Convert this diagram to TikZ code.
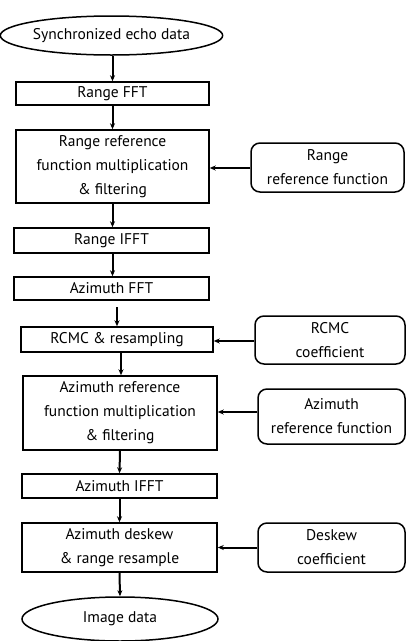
\documentclass[tikz,border=0pt]{standalone}
\usepackage{fontspec}
\setmainfont{PT Sans}
\usetikzlibrary{shapes.geometric,arrows.meta}
\begin{document}
\begin{tikzpicture}[x=1pt,y=-1pt,
  every node/.style={font=\fontsize{15.5}{24}\selectfont, align=center, inner sep=0pt},
  box/.style={draw, line width=1.5pt, rectangle},
  rbox/.style={draw, line width=1.5pt, rectangle, rounded corners=9pt},
  oval/.style={draw, line width=1.5pt, ellipse},
  arr/.style={line width=2pt, -{Stealth[length=6pt,width=5pt]}}]
\useasboundingbox (0,0) rectangle (406,641);
\node[oval, minimum width=194pt, minimum height=39pt] (e1) at (111.5,35.5) {Synchronized echo data};
\node[box, minimum width=193pt, minimum height=23pt] (b1) at (112.5,93.5) {Range FFT};
\node[box, minimum width=193pt, minimum height=73pt] (b2) at (112.5,166.5) {Range reference\\function multiplication\\\& filtering};
\node[rbox, minimum width=153pt, minimum height=49pt] (r1) at (327.5,167.5) {Range\\reference function};
\node[box, minimum width=195pt, minimum height=25pt] (b3) at (111.5,240.5) {Range IFFT};
\node[box, minimum width=195pt, minimum height=23pt] (b4) at (111.5,288.5) {Azimuth FFT};
\node[box, minimum width=192pt, minimum height=25pt] (b5) at (117,339.5) {RCMC \& resampling};
\node[rbox, minimum width=150pt, minimum height=48pt] (r2) at (330,340) {RCMC\\coefficient};
\node[box, minimum width=194pt, minimum height=74pt] (b6) at (120,413) {Azimuth reference\\function multiplication\\\& filtering};
\node[rbox, minimum width=147pt, minimum height=55pt] (r3) at (331.5,416.5) {Azimuth\\reference function};
\node[box, minimum width=195pt, minimum height=24pt] (b7) at (119.5,486) {Azimuth IFFT};
\node[box, minimum width=195pt, minimum height=49pt] (b8) at (119.5,547.5) {Azimuth deskew\\\& range resample};
\node[rbox, minimum width=147pt, minimum height=49pt] (r4) at (331.5,547.5) {Deskew\\coefficient};
\node[oval, minimum width=196pt, minimum height=44pt] (e2) at (120,619) {Image data};
\coordinate (c1) at (117,307);
\draw[arr] (e1.south -| b1.north) -- (b1.north);
\draw[arr] (b1.south) -- (b2.north);
\draw[arr] (b2.south) -- (b3.north -| b2.south);
\draw[arr] (b3.south -| b2.south) -- (b4.north -| b2.south);
\draw[arr] (c1) -- (b5.north);
\draw[arr] (b5.south -| 121,0) -- (b6.north -| 121,0);
\draw[arr] (b6.south) -- (b7.north);
\draw[arr] (b7.south) -- (b8.north);
\draw[arr] (b8.south) -- (e2.north);
\draw[arr] (r1.west |- 0,168) -- (b2.east |- 0,168);
\draw[arr] (r2.west |- 0,341) -- (b5.east |- 0,341);
\draw[arr] (r3.west |- 0,412) -- (b6.east |- 0,412);
\draw[arr] (r4.west) -- (b8.east);
\end{tikzpicture}
\end{document}
